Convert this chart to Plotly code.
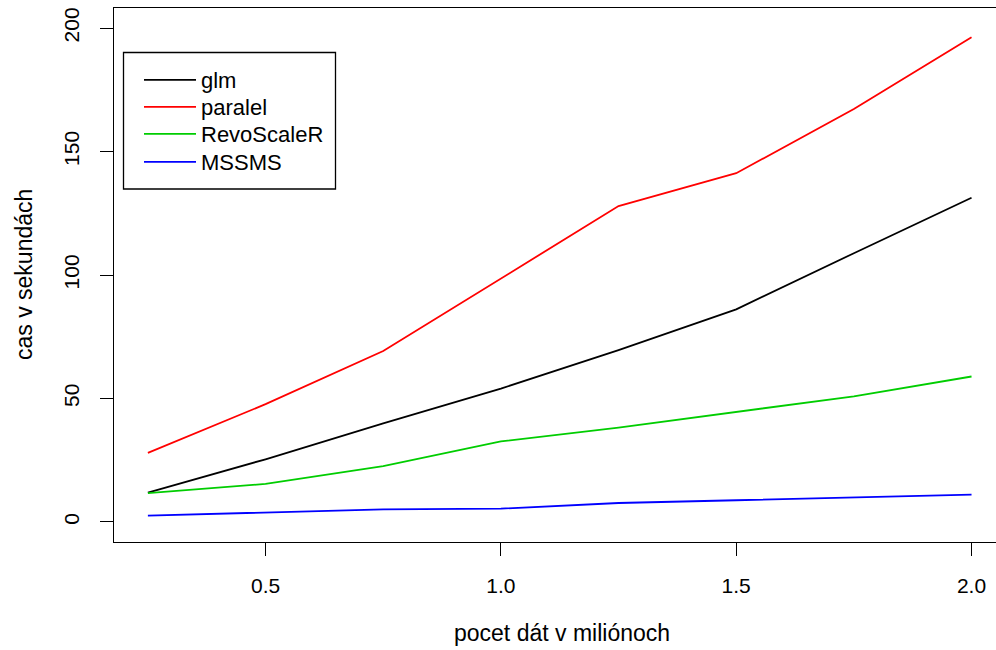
import plotly.graph_objects as go

x_mil = [0.25, 0.5, 0.75, 1.0, 1.25, 1.5, 1.75, 2.0]
glm = [11.9, 25.4, 39.9, 54.0, 69.6, 86.1, 108.8, 131.3]
paralel = [28.0, 47.7, 69.2, 98.6, 127.9, 141.2, 167.2, 196.3]
revoscaler = [11.7, 15.4, 22.6, 32.6, 38.2, 44.7, 50.9, 58.9]
mssms = [2.6, 3.9, 5.1, 5.4, 7.7, 8.8, 9.9, 11.1]

series = [("glm", glm, "#000000"), ("paralel", paralel, "#FF0000"),
          ("RevoScaleR", revoscaler, "#00CD00"), ("MSSMS", mssms, "#0000FF")]

FONT = "Liberation Sans, Arial, Helvetica, sans-serif"

W, H = 996, 650
ML, MR, MT, MB = 114, 0, 8, 108
PW, PH = W - ML - MR, H - MT - MB


def px_x(px):
    return (px - ML) / PW


def px_y(py):
    return (H - MB - py) / PH


legend_rows = [80, 107, 134, 162]
legend_ids = ["legend", "legend2", "legend3", "legend4"]

fig = go.Figure()
for (name, vals, col), lid in zip(series, legend_ids):
    fig.add_trace(go.Scatter(x=x_mil, y=vals, mode="lines", name=name,
                             legend=lid, line=dict(color=col, width=1.8)))

legend_layouts = {}
for lid, row in zip(legend_ids, legend_rows):
    legend_layouts[lid] = dict(x=px_x(139), y=px_y(row), xanchor="left",
                               yanchor="middle", borderwidth=0,
                               bgcolor="rgba(0,0,0,0)", font=dict(size=22),
                               itemwidth=52)

fig.update_layout(
    width=W, height=H,
    margin=dict(l=ML, r=MR, t=MT, b=MB),
    paper_bgcolor="white", plot_bgcolor="white",
    font=dict(family=FONT, size=21, color="black"),
    showlegend=True,
    shapes=[dict(type="rect", xref="paper", yref="paper",
                 x0=px_x(123.5), x1=px_x(335.5), y0=px_y(189), y1=px_y(52.5),
                 line=dict(color="black", width=1.3), fillcolor="white",
                 layer="below")],
    xaxis=dict(range=[0.178, 2.052], tickvals=[0.5, 1.0, 1.5, 2.0],
               ticktext=["0.5", "1.0", "1.5", "2.0"],
               showgrid=False, zeroline=False, showline=True, mirror=True,
               linecolor="black", linewidth=1.3, ticks="outside", ticklen=13,
               tickwidth=1.3, tickcolor="black", ticklabelstandoff=12),
    yaxis=dict(range=[-8.1, 208.1], tickvals=[0, 50, 100, 150, 200],
               showgrid=False, zeroline=False, showline=True,
               linecolor="black", linewidth=1.3, ticks="outside", ticklen=13,
               tickwidth=1.3, tickcolor="black", tickangle=-90,
               ticklabelstandoff=12),
    annotations=[
        dict(text="pocet dát v miliónoch", xref="paper", yref="paper",
             x=px_x(562), y=0, xanchor="center", yanchor="middle",
             yshift=-(633 - (H - MB)), showarrow=False, font=dict(size=23)),
        dict(text="cas v sekundách", xref="paper", yref="paper",
             x=0, y=px_y(275), xanchor="center", yanchor="middle", xshift=-90,
             textangle=-90, showarrow=False, font=dict(size=23)),
    ],
    **legend_layouts,
)

fig.write_html("out.html")
